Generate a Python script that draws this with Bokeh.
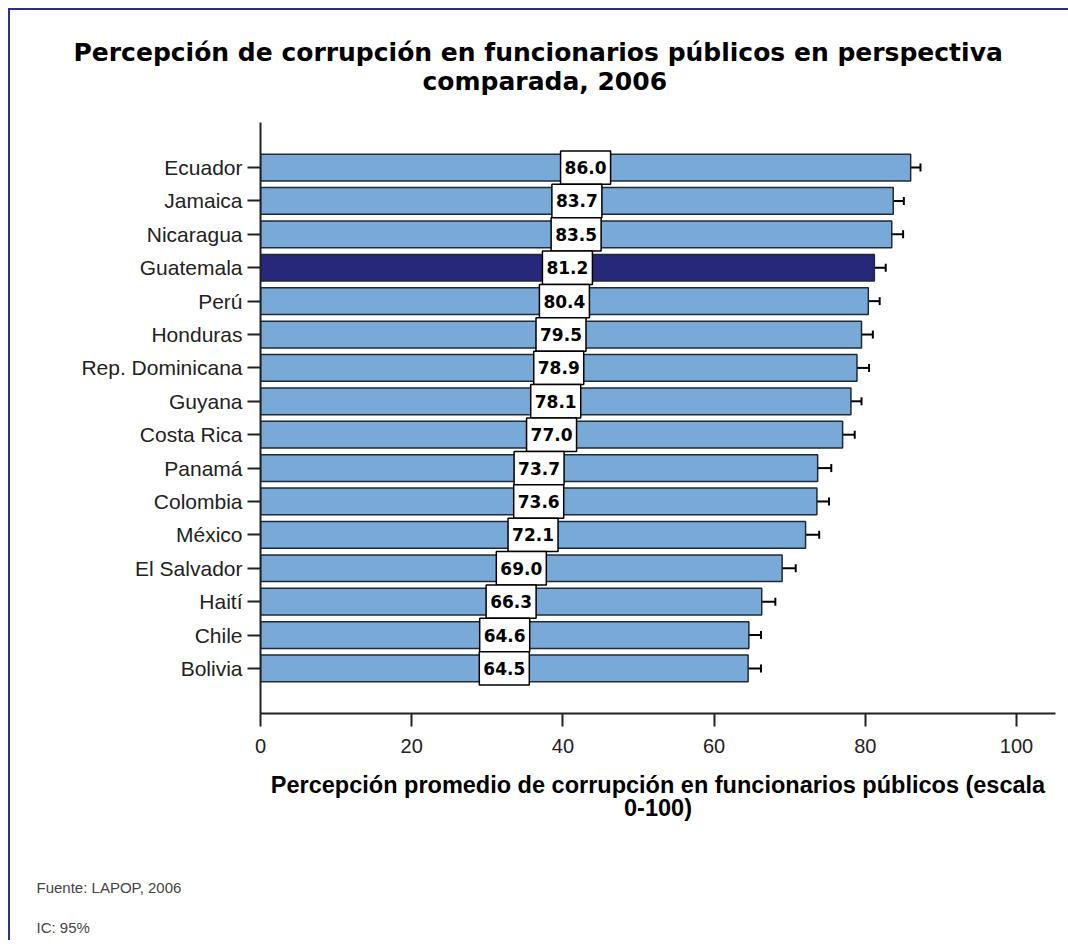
from bokeh.plotting import figure
from bokeh.models import Range1d, FixedTicker, ColumnDataSource, Whisker, TeeHead, Title
from bokeh.core.properties import value
from bokeh.embed import file_html
from bokeh.resources import INLINE

countries = ["Ecuador", "Jamaica", "Nicaragua", "Guatemala", "Perú", "Honduras",
             "Rep. Dominicana", "Guyana", "Costa Rica", "Panamá", "Colombia",
             "México", "El Salvador", "Haití", "Chile", "Bolivia"]
values = [86.0, 83.7, 83.5, 81.2, 80.4, 79.5, 78.9, 78.1, 77.0, 73.7, 73.6,
          72.1, 69.0, 66.3, 64.6, 64.5]
ci_half = [1.3, 1.4, 1.5, 1.5, 1.5, 1.5, 1.6, 1.4, 1.6, 1.8, 1.6,
           1.8, 1.8, 1.8, 1.6, 1.7]
highlight = "Guatemala"
x_ticks = [0, 20, 40, 60, 80, 100]

title_lines = ["Percepción de corrupción en funcionarios públicos en perspectiva",
               "comparada, 2006"]
xlabel_lines = ["Percepción promedio de corrupción en funcionarios públicos (escala",
                "0-100)"]
notes = ["Fuente: LAPOP, 2006", "IC: 95%"]

BAR = "#79a9d7"
HIGH = "#28287a"
EDGE = "#1f2a36"
AXIS = "#222222"

pos = list(range(len(countries)))
src = ColumnDataSource(dict(
    y=pos,
    v=values,
    mid=[v / 2 for v in values],
    lo=[v - c for v, c in zip(values, ci_half)],
    hi=[v + c for v, c in zip(values, ci_half)],
    lab=[f"{v:.1f}" for v in values],
    col=[HIGH if c == highlight else BAR for c in countries],
))

p = figure(frame_width=795, frame_height=591, output_backend="svg", toolbar_location=None,
           x_range=Range1d(0, 105.16), y_range=Range1d(16.35, -1.35),
           min_border_left=250, min_border_right=13, min_border_top=112,
           min_border_bottom=227, title=None)
p.styles = {"margin-left": "8px", "margin-top": "8px",
            "border-left": "2px solid #2e2e8c", "border-top": "2px solid #2e2e8c"}
p.outline_line_color = None
p.xgrid.visible = False
p.ygrid.visible = False
p.background_fill_color = "white"
p.border_fill_color = "white"

p.hbar(y="y", left=0, right="v", height=0.8, fill_color="col",
       line_color=EDGE, line_width=1.5, source=src)

w = Whisker(base="y", lower="lo", upper="hi", dimension="width", source=src,
            line_color="black", line_width=2,
            lower_head=TeeHead(size=8, line_color="black", line_width=2),
            upper_head=TeeHead(size=8, line_color="black", line_width=2))
p.add_layout(w)

p.rect(x="mid", y="y", width=50, width_units="screen", height=1.0,
       fill_color="white", line_color="black", line_width=1.5, source=src)
p.text(x="mid", y="y", text="lab", text_align="center", text_baseline="middle",
       text_font=value("DejaVu Sans"), text_font_style="bold",
       text_font_size="17px", text_color="black", source=src)

# axes
for ax in (p.xaxis[0], p.yaxis[0]):
    ax.axis_line_color = AXIS
    ax.axis_line_width = 2
    ax.major_tick_line_color = AXIS
    ax.major_tick_line_width = 2
    ax.major_tick_out = 13
    ax.major_tick_in = 0
    ax.minor_tick_line_color = None
    ax.major_label_text_font = "Liberation Sans"
    ax.major_label_text_color = "#222222"

p.yaxis.ticker = FixedTicker(ticks=pos)
p.yaxis.major_label_overrides = {i: c for i, c in zip(pos, countries)}
p.yaxis.major_label_standoff = 5
p.yaxis.major_label_text_font_size = "21px"
p.xaxis.ticker = FixedTicker(ticks=x_ticks)
p.xaxis.major_label_standoff = 12
p.xaxis.major_label_text_font_size = "20px"
p.xaxis.axis_label = "\n".join(xlabel_lines)
p.xaxis.axis_label_text_font = "Liberation Sans"
p.xaxis.axis_label_text_font_style = "bold"
p.xaxis.axis_label_text_font_size = "23.5px"
p.xaxis.axis_label_text_color = "black"
p.xaxis.axis_label_standoff = 16
p.xaxis.axis_label_text_line_height = 0.9


def spacer(size):
    return Title(text=" ", text_font_size="10px", standoff=size, text_color="white")


# above: nearest to frame first
p.add_layout(spacer(12), "above")
p.add_layout(Title(text=title_lines[1], align="left", offset=162, standoff=0,
                   vertical_align="top", text_font="DejaVu Sans", text_line_height=0.85,
                   text_font_style="bold", text_font_size="25px", text_color="black"), "above")
p.add_layout(Title(text=title_lines[0], align="left", offset=-187, standoff=0,
                   vertical_align="bottom", text_font="DejaVu Sans", text_line_height=0.85,
                   text_font_style="bold", text_font_size="25px", text_color="black"), "above")

# below: after the axis
p.add_layout(spacer(41), "below")
p.add_layout(Title(text=notes[0], align="left", offset=-224, standoff=0,
                   vertical_align="middle", text_font="Liberation Sans",
                   text_font_style="normal", text_font_size="15px", text_color="#444444"), "below")
p.add_layout(spacer(8), "below")
p.add_layout(Title(text=notes[1], align="left", offset=-224, standoff=0,
                   vertical_align="middle", text_font="Liberation Sans",
                   text_font_style="normal", text_font_size="15px", text_color="#444444"), "below")

open("out.html", "w").write(file_html(p, INLINE))
